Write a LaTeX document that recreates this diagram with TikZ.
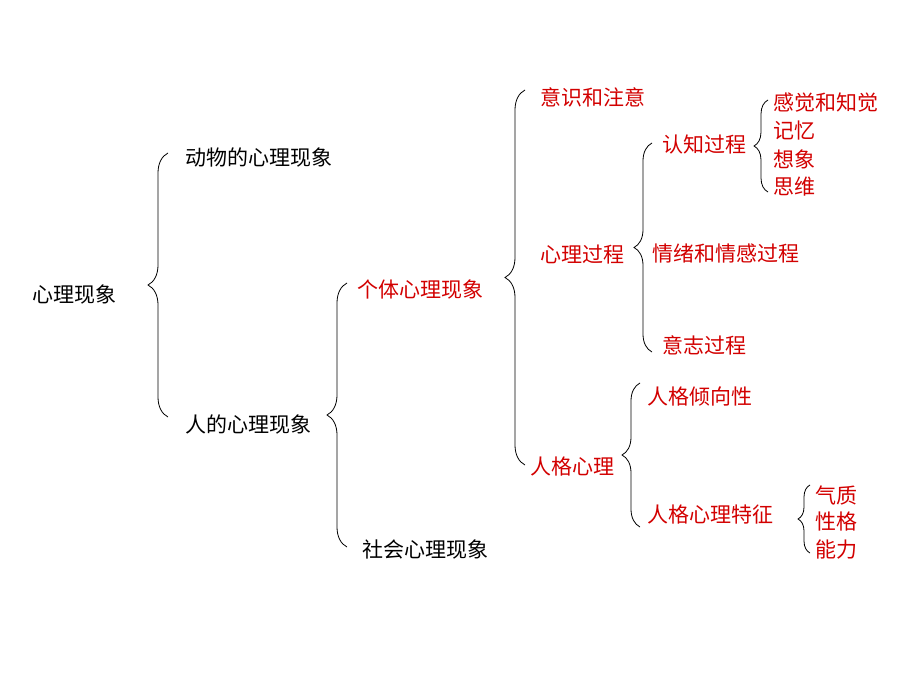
\documentclass[tikz,border=0pt]{standalone}
\usepackage{fontspec}
\setmainfont{Noto Sans CJK SC}
\usetikzlibrary{decorations.pathreplacing}
\definecolor{topicred}{RGB}{210,0,0}

\tikzset{
	item/.style={anchor=west,inner sep=0pt,font=\fontsize{21}{24}\selectfont},
	hot/.style={item,text=topicred},
	curly/.style={decorate,decoration={brace,amplitude=#1},line width=0.8pt}
}

\begin{document}
\begin{tikzpicture}[x=1pt,y=-1pt]
	\useasboundingbox (0,0) rectangle (920,690);
	% level 1
	\node(root) at (32,295)[item]{心理现象};
	\node(animal) at (185,158)[item]{动物的心理现象};
	\node(human) at (185,425)[item]{人的心理现象};
	\draw[curly=20pt](168,417) to (168,153);

	% level 2
	\node(indiv) at (357,290)[hot]{个体心理现象};
	\node(social) at (362,550)[item]{社会心理现象};
	\draw[curly=20pt](347,547) to (347,283);

	% level 3
	\node(aware) at (540,97)[hot]{意识和注意};
	\node(psy) at (540,255)[hot]{心理过程};
	\node(pers) at (530,467)[hot]{人格心理};
	\draw[curly=20pt](525,465) to (525,90);

	% level 4
	\node(cogn) at (662,145)[hot]{认知过程};
	\node(emot) at (652,253)[hot]{情绪和情感过程};
	\node(will) at (662,345)[hot]{意志过程};
	\draw[curly=18pt](652,352) to (652,143);

	\node(tend) at (647,397)[hot]{人格倾向性};
	\node(trait) at (647,515)[hot]{人格心理特征};
	\draw[curly=18pt](640,527) to (640,383);

	% level 5
	\node(sense) at (773,103)[hot]{感觉和知觉};
	\node(mem) at (773,131)[hot]{记忆};
	\node(imag) at (773,159)[hot]{想象};
	\node(think) at (773,187)[hot]{思维};
	\draw[curly=14pt](768,192) to (768,100);

	\node(temper) at (815,495)[hot]{气质};
	\node(charac) at (815,522)[hot]{性格};
	\node(abil) at (815,550)[hot]{能力};
	\draw[curly=12pt](810,553) to (810,485);
\end{tikzpicture}
\end{document}
